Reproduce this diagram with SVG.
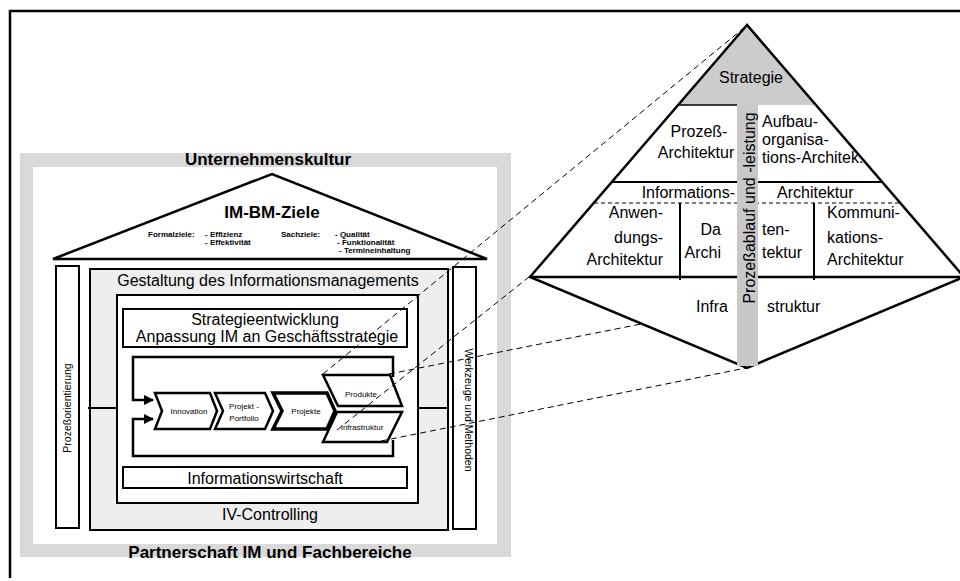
<svg xmlns="http://www.w3.org/2000/svg" width="960" height="581" viewBox="0 0 960 581">
<defs>
<style>
text{font-family:"Liberation Sans",Arial,sans-serif;fill:#000}
.t16{font-size:16px}
.b17{font-size:17px;font-weight:bold}
.s8{font-size:8px}
.f8{font-size:8px;font-weight:bold}
.v{font-size:10.5px}
.bx{fill:#fff;stroke:#000;stroke-width:2}
.ln{fill:none;stroke:#000;stroke-width:2.5}
.ds{fill:none;stroke:#000;stroke-width:1;stroke-dasharray:6,4}
.mid{text-anchor:middle}
.end{text-anchor:end}
</style>
<marker id="ah" viewBox="0 0 10 10" refX="9" refY="5" markerWidth="4" markerHeight="4" orient="auto" markerUnits="strokeWidth">
<path d="M0,0 L10,5 L0,10 Z" fill="#000"/>
</marker>
</defs>
<rect width="960" height="581" fill="#fff"/>
<path d="M10,578 V11 H960" fill="none" stroke="#000" stroke-width="2.5"/>

<g id="house">
<rect x="20" y="153" width="491" height="404" fill="#d9d9d9"/>
<rect x="33" y="167" width="464" height="377" fill="#fff"/>
<text class="b17 mid" x="268" y="165">Unternehmenskultur</text>
<text class="b17 mid" x="270" y="558">Partnerschaft IM und Fachbereiche</text>
</g>

<g id="roof">
<path d="M53,259 L272,174 L487,259 Z" class="ln" fill="#fff"/>
<text class="b17 mid" x="272" y="218">IM-BM-Ziele</text>
<text class="f8" x="148" y="237">Formalziele:</text>
<text class="f8" x="205" y="237">- Effizienz</text>
<text class="f8" x="205" y="245">- Effektivität</text>
<text class="f8" x="281" y="237">Sachziele:</text>
<text class="f8" x="335" y="237">- Qualität</text>
<text class="f8" x="337" y="245">- Funktionalität</text>
<text class="f8" x="339" y="253">- Termineinhaltung</text>
</g>

<g id="pillar-left">
<rect class="bx" x="56" y="266" width="23" height="262"/>
<text class="v mid" transform="translate(71,408) rotate(-90)">Prozeßorientierung</text>
</g>

<g id="pillar-right">
<rect class="bx" x="453" y="267" width="23" height="262"/>
<text class="v mid" transform="translate(464.5,410) rotate(90)">Werkzeuge und Methoden</text>
</g>

<g id="gestaltung">
<rect x="90" y="269" width="358" height="261" fill="#eeeeee" stroke="#000" stroke-width="2"/>
<text class="t16 mid" x="268" y="286">Gestaltung des Informationsmanagements</text>
<text class="t16 mid" x="270" y="520">IV-Controlling</text>
<rect class="bx" x="117" y="295" width="301" height="208"/>
</g>

<g id="strategieentwicklung">
<rect class="bx" x="123" y="309" width="284" height="38"/>
<text class="t16 mid" x="265" y="325">Strategieentwicklung</text>
<text class="t16 mid" x="267" y="342">Anpassung IM an Geschäftsstrategie</text>
</g>

<g id="informationswirtschaft">
<rect class="bx" x="123" y="467" width="284" height="21"/>
<text class="t16 mid" x="265" y="484">Informationswirtschaft</text>
</g>

<g id="loop">
<path class="ln" d="M393,377 V357 H133 V400 H153" marker-end="url(#ah)"/>
<path class="ln" d="M393,440 V456 H133 V419 H153" marker-end="url(#ah)"/>
<path d="M88,408 H118 M417,408 H449" stroke="#000" stroke-width="2" fill="none"/>
</g>

<g id="innovation">
<polygon points="155,393 210,393 217,411 210,429 155,429 162,411" fill="#fff" stroke="#000" stroke-width="2.5"/>
<text class="s8 mid" x="189" y="414">Innovation</text>
</g>
<g id="portfolio">
<polygon points="215,393 265,393 273,411 265,429 215,429 223,411" fill="#fff" stroke="#000" stroke-width="2.5"/>
<text class="s8 mid" x="244" y="409">Projekt -</text>
<text class="s8 mid" x="244" y="421">Portfolio</text>
</g>
<g id="projekte">
<polygon points="273,393 327,393 335,411 327,429 273,429 282,411" fill="#fff" stroke="#000" stroke-width="3.5"/>
<text class="s8 mid" x="306" y="414">Projekte</text>
</g>
<g id="produkte">
<polygon points="323,375 390,375 402,406 338,406" fill="#fff" stroke="#000" stroke-width="2.5"/>
<text class="s8 mid" x="361" y="397">Produkte</text>
</g>
<g id="infrastruktur">
<polygon points="337,412 402,412 387,442 323,442" fill="#fff" stroke="#000" stroke-width="2.5"/>
<text class="s8 mid" x="362" y="430">Infrastruktur</text>
</g>

<g id="pyramid">
<polygon points="747,25 678,105 816,105" fill="#cccccc"/>
<path d="M678,105 H737" stroke="#000" stroke-width="1.5"/>
<path d="M612,182 H882" stroke="#000" stroke-width="2"/>
<path d="M594,203 H901" stroke="#000" stroke-width="1" stroke-dasharray="4,3"/>
<path d="M680,203 V280 M814,203 V280" stroke="#000" stroke-width="2"/>
<path d="M530,277 H964" stroke="#000" stroke-width="2.5"/>
<polygon points="747,25 530,277 747,368 964,277" fill="none" stroke="#000" stroke-width="2.5" stroke-linejoin="miter"/>
<rect x="737" y="105" width="21" height="261" fill="#c8c8c8"/>
<text class="t16 mid" transform="translate(755,208) rotate(-90)">Prozeßablauf und -leistung</text>
<text class="t16 mid" x="751" y="83">Strategie</text>
<text class="t16 mid" x="699" y="137">Prozeß-</text>
<text class="t16 mid" x="696" y="158">Architektur</text>
<text class="t16" x="762" y="127">Aufbau-</text>
<text class="t16" x="762" y="145">organisa-</text>
<text class="t16" x="762" y="163">tions-Architek.</text>
<text class="t16 end" x="735" y="198">Informations-</text>
<text class="t16" x="777" y="198">Architektur</text>
<text class="t16 end" x="663" y="218">Anwen-</text>
<text class="t16 end" x="663" y="243">dungs-</text>
<text class="t16 end" x="663" y="265">Architektur</text>
<text class="t16 end" x="721" y="235">Da</text>
<text class="t16 end" x="721" y="258">Archi</text>
<text class="t16" x="762" y="235">ten-</text>
<text class="t16" x="762" y="258">tektur</text>
<text class="t16" x="827" y="218">Kommuni-</text>
<text class="t16" x="827" y="243">kations-</text>
<text class="t16" x="827" y="265">Architektur</text>
<text class="t16 end" x="728" y="312">Infra</text>
<text class="t16" x="767" y="312">struktur</text>
</g>

<g id="connectors">
<path class="ds" d="M323,374 L745,27"/>
<path class="ds" d="M337,430 L529,277"/>
<path class="ds" d="M389,374 L641,324"/>
<path class="ds" d="M381,441 L746,368"/>
</g>
</svg>
